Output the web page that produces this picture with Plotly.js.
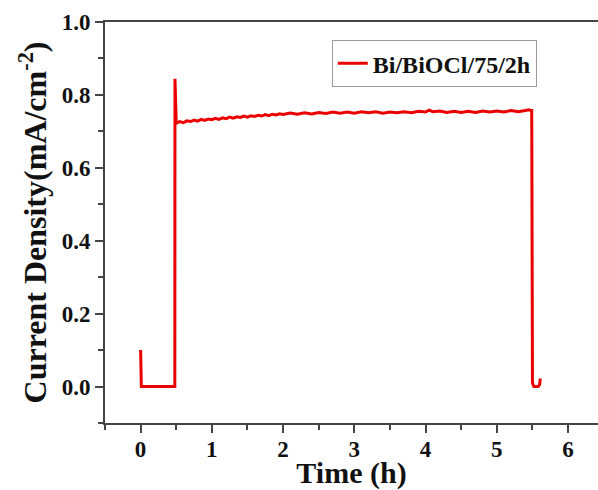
<!DOCTYPE html>
<html>
<head>
<meta charset="utf-8">
<script src="https://cdn.plot.ly/plotly-3.0.1.min.js"></script>
<style>html,body{margin:0;padding:0;background:#fff;}#chart{width:598px;height:490px;}</style>
</head>
<body>
<div id="chart"></div>
<script>
// Time (h)
var time = [0, 0.001, 0.01, 0.2, 0.475, 0.48, 0.482, 0.49,
  0.50, 0.55, 0.60, 0.65, 0.70, 0.75, 0.80, 0.85, 0.90, 0.95,
  1.00, 1.05, 1.10, 1.15, 1.20, 1.25, 1.30, 1.35, 1.40, 1.45,
  1.50, 1.55, 1.60, 1.65, 1.70, 1.75, 1.80, 1.85, 1.90, 1.95,
  2.00, 2.10, 2.20, 2.30, 2.40, 2.50, 2.60, 2.70, 2.80, 2.90,
  3.00, 3.10, 3.20, 3.30, 3.40, 3.50, 3.60, 3.70, 3.80, 3.90,
  4.00, 4.05, 4.10, 4.20, 4.30, 4.40, 4.50, 4.60, 4.70, 4.80, 4.90,
  5.00, 5.10, 5.20, 5.30, 5.40, 5.45, 5.48,
  5.49, 5.50, 5.52, 5.58, 5.60, 5.61];
// Current density (mA/cm^-2)
var current = [0.100, 0.010, 0.000, 0.000, 0.000, 0.000, 0.844, 0.726,
  0.722, 0.727, 0.724, 0.729, 0.727, 0.731, 0.728, 0.733, 0.730, 0.734,
  0.732, 0.736, 0.733, 0.737, 0.735, 0.739, 0.736, 0.740, 0.738, 0.742,
  0.739, 0.743, 0.741, 0.744, 0.742, 0.746, 0.743, 0.747, 0.745, 0.748,
  0.746, 0.750, 0.747, 0.751, 0.748, 0.752, 0.749, 0.753, 0.750, 0.753,
  0.750, 0.754, 0.751, 0.754, 0.750, 0.753, 0.751, 0.754, 0.751, 0.755,
  0.753, 0.758, 0.754, 0.756, 0.752, 0.755, 0.752, 0.755, 0.752, 0.756, 0.753,
  0.756, 0.753, 0.757, 0.754, 0.757, 0.759, 0.757,
  0.757, 0.010, 0.000, 0.000, 0.005, 0.022];
var seriesName = "Bi/BiOCl/75/2h";
var yTickVals = [0.0, 0.2, 0.4, 0.6, 0.8, 1.0];
var xTickVals = [0, 1, 2, 3, 4, 5, 6];

var serif = "'Liberation Serif', 'Times New Roman', serif";
var axisColor = "#444";

var trace = {
  x: time, y: current, type: "scatter", mode: "lines", name: seriesName,
  line: {color: "rgb(235,0,0)", width: 3}
};

var layout = {
  width: 598, height: 490,
  margin: {l: 105, r: 0, t: 22, b: 67},
  paper_bgcolor: "#fff", plot_bgcolor: "#fff",
  showlegend: true,
  legend: {
    x: 0.46, y: 0.955, xanchor: "left", yanchor: "top",
    bgcolor: "#fff", bordercolor: "#999", borderwidth: 1,
    font: {family: serif, size: 24, color: "#111", weight: "bold"},
    itemwidth: 30, tracegroupgap: 0
  },
  xaxis: {
    range: [-0.5, 6.42], tickvals: xTickVals, ticktext: xTickVals.map(String),
    showgrid: false, zeroline: false, automargin: false,
    showline: true, linecolor: axisColor, linewidth: 2, mirror: true,
    ticks: "outside", ticklen: 8, tickwidth: 2, tickcolor: axisColor,
    ticklabelstandoff: -4,
    minor: {dtick: 0.5, tick0: 0, ticks: "outside", ticklen: 5, tickwidth: 2, tickcolor: axisColor, showgrid: false},
    tickfont: {family: serif, size: 23, color: "#111", weight: "bold"},
    title: {text: "Time (h)", font: {family: serif, size: 30, color: "#111", weight: "bold"}, standoff: 1}
  },
  yaxis: {
    range: [-0.1, 1.0], tickvals: yTickVals, ticktext: yTickVals.map(function(v){return v.toFixed(1);}),
    showgrid: false, zeroline: false, automargin: false,
    showline: true, linecolor: axisColor, linewidth: 2, mirror: true,
    ticks: "outside", ticklen: 8, tickwidth: 2, tickcolor: axisColor,
    minor: {dtick: 0.1, tick0: 0, ticks: "outside", ticklen: 5, tickwidth: 2, tickcolor: axisColor, showgrid: false},
    tickfont: {family: serif, size: 23, color: "#111", weight: "bold"},
    title: {text: "Current Density(mA/cm<sup>-2</sup>)", font: {family: serif, size: 32, color: "#111", weight: "bold"}, standoff: 5}
  }
};

Plotly.newPlot("chart", [trace], layout, {displayModeBar: false, staticPlot: true});
</script>
</body>
</html>
